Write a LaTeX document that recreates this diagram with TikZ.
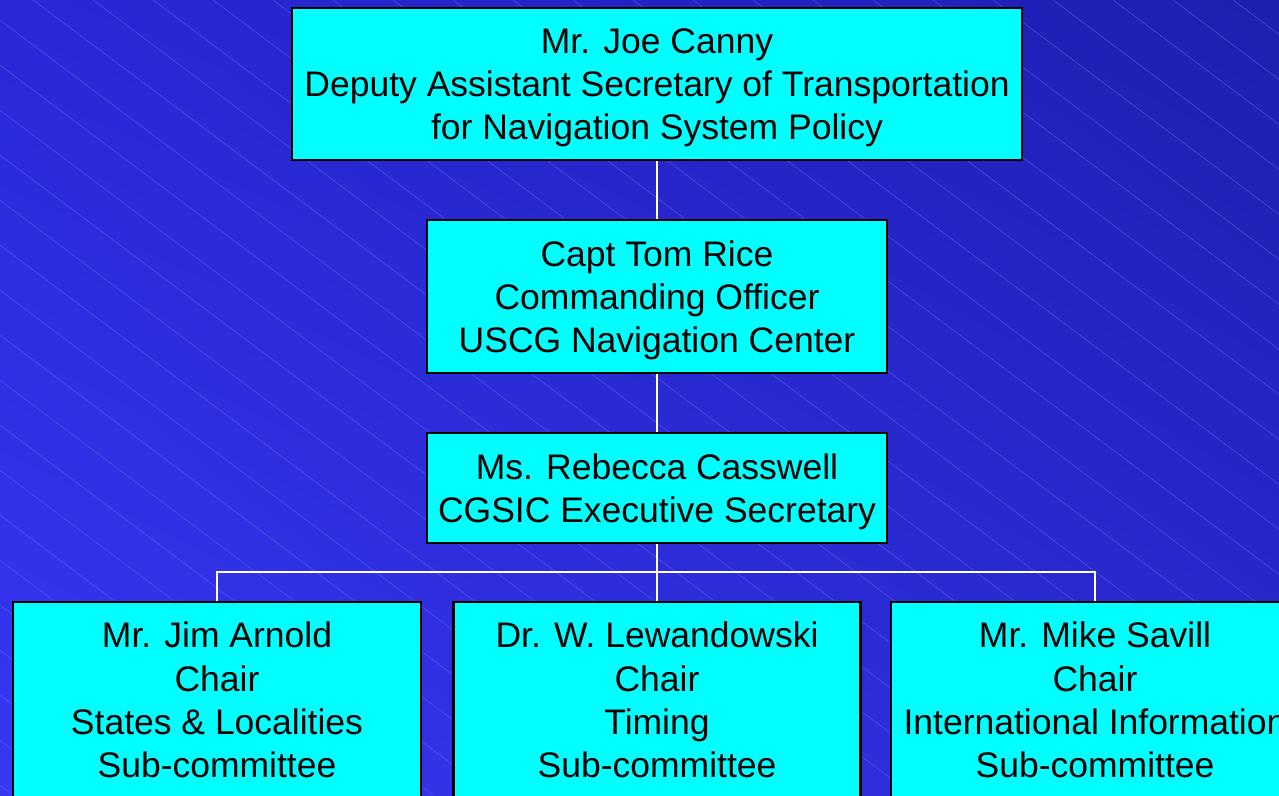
\documentclass[tikz,border=0pt]{standalone}
\usepackage{fontspec}
\setmainfont{Liberation Sans}
\usetikzlibrary{shadings}
\definecolor{boxcyan}{HTML}{00FFFF}
\definecolor{bgUL}{HTML}{2828D8}
\definecolor{bgUR}{HTML}{1E1EB0}
\definecolor{bgLL}{HTML}{3737F4}
\definecolor{bgLR}{HTML}{2A2AD2}
\definecolor{stripe}{HTML}{7070F0}
\tikzset{
  orgbox/.style={draw=black, line width=2.4pt, fill=boxcyan, align=center,
    font=\fontsize{35.5}{43.3}\selectfont, inner sep=0pt},
  link/.style={draw=white, line width=2.4pt}
}
\begin{document}
\begin{tikzpicture}[x=1pt,y=-1pt]
\useasboundingbox (0,0) rectangle (1279,795);
\clip (0,0) rectangle (1279,795);
\shade[upper left=bgUL, upper right=bgUR, lower left=bgLL, lower right=bgLR] (0,0) rectangle (1279,795);
\foreach \k in {-18,...,21}{
  \draw[stripe, opacity=0.5, line width=0.6pt] ({33+60*\k},0) -- ({33+60*\k+1060},795);
}
\node[orgbox, minimum width=730, minimum height=152] (canny) at (657,84)
  {Mr. Joe Canny\\Deputy Assistant Secretary of Transportation\\\smash{for Navigation System Policy}};
\node[orgbox, minimum width=460, minimum height=153] (rice) at (657,296.5)
  {Capt Tom Rice\\Commanding Officer\\\smash{USCG Navigation Center}};
\node[orgbox, minimum width=460, minimum height=110] (casswell) at (657,488)
  {Ms. Rebecca Casswell\\\smash{CGSIC Executive Secretary}};
\node[orgbox, minimum width=408, minimum height=196] (arnold) at (217,700)
  {Mr. Jim Arnold\\Chair\\States \& Localities\\Sub-committee};
\node[orgbox, minimum width=407, minimum height=196] (lewan) at (657,700)
  {Dr. W. Lewandowski\\Chair\\Timing\\Sub-committee};
\node[orgbox, minimum width=408, minimum height=196] (savill) at (1095,700)
  {Mr. Mike Savill\\Chair\\International Information\\Sub-committee};
\coordinate (bus) at (657,572);
\draw[link] (canny.south) -- (rice.north);
\draw[link] (rice.south) -- (casswell.north);
\draw[link] (casswell.south) -- (lewan.north);
\draw[link] (arnold.north) -- (arnold.north |- bus) -- (savill.north |- bus) -- (savill.north);
\end{tikzpicture}
\end{document}
